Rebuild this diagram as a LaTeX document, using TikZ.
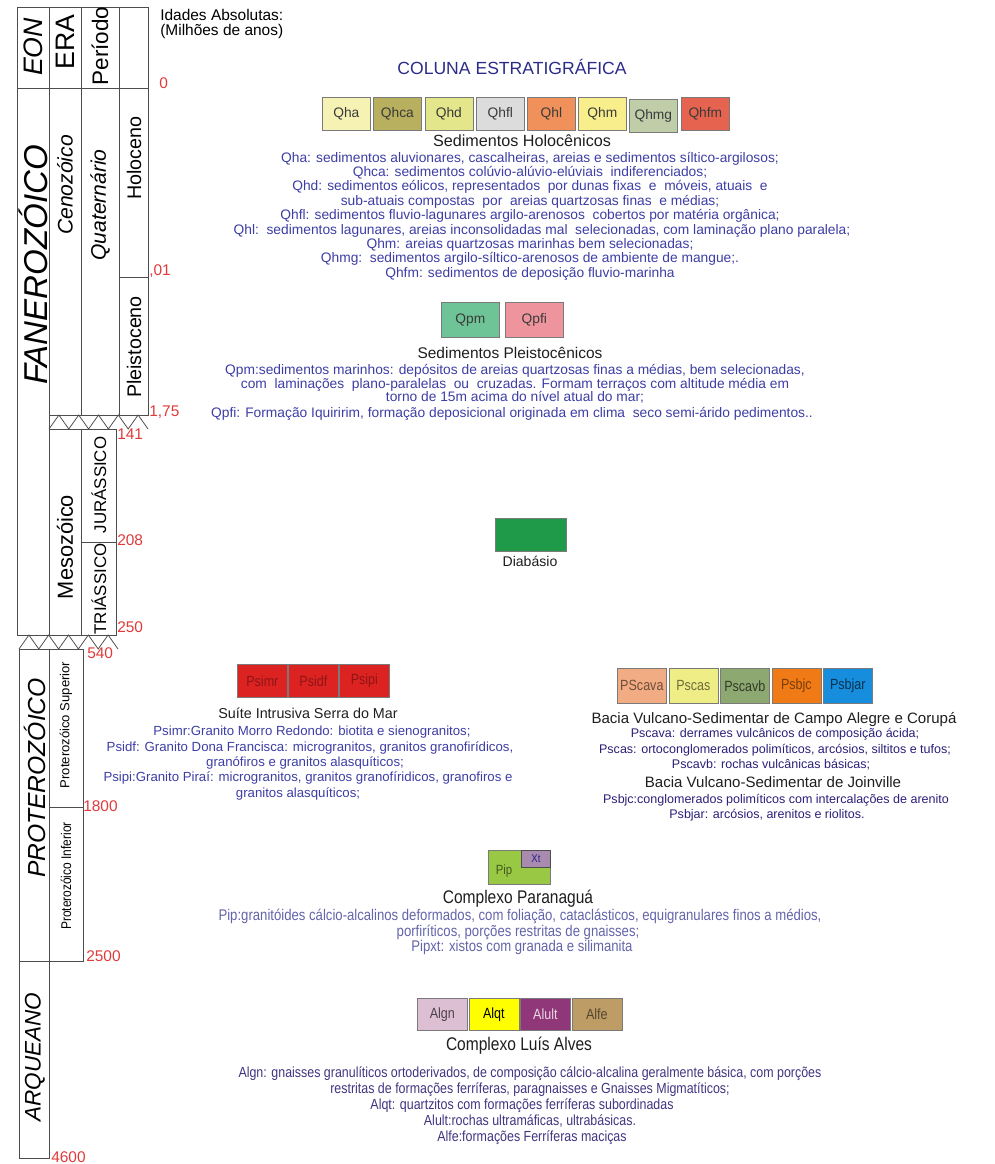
\documentclass[tikz,border=0pt]{standalone}
\usepackage{fontspec}
\setmainfont{Liberation Sans}
\newfontfamily\narrowfont[FakeStretch=0.85]{Liberation Sans}
\definecolor{cLine}{HTML}{4D4D4D}
\definecolor{cBox}{HTML}{7A7A7A}
\definecolor{cRed}{HTML}{E03A3A}
\definecolor{cTitle}{HTML}{2B2B8A}
\definecolor{cHead}{HTML}{1E1E1E}
\definecolor{cHolo}{HTML}{3D3DA5}
\definecolor{cCampo}{HTML}{2A1F78}
\definecolor{cPara}{HTML}{6464AA}
\definecolor{cLuis}{HTML}{3F3580}
\definecolor{cSwTxt}{HTML}{3A3A3A}
\definecolor{cQha}{HTML}{F6F2B4}
\definecolor{cQhca}{HTML}{B8B05E}
\definecolor{cQhd}{HTML}{E4E68C}
\definecolor{cQhfl}{HTML}{DCDCDC}
\definecolor{cQhl}{HTML}{F0905A}
\definecolor{cQhm}{HTML}{F8EF8C}
\definecolor{cQhmg}{HTML}{C0CDA9}
\definecolor{cQhfm}{HTML}{E6644F}
\definecolor{cQpm}{HTML}{6FC497}
\definecolor{cQpfi}{HTML}{EE949C}
\definecolor{cDiab}{HTML}{1F9A48}
\definecolor{cPsi}{HTML}{DD2222}
\definecolor{cPsiTxt}{HTML}{8E1616}
\definecolor{cPScava}{HTML}{F2AC84}
\definecolor{cPscas}{HTML}{EFEE86}
\definecolor{cPscavb}{HTML}{8DA971}
\definecolor{cPsbjc}{HTML}{F07A16}
\definecolor{cPsbjar}{HTML}{168DDD}
\definecolor{cPip}{HTML}{98C844}
\definecolor{cXt}{HTML}{A98BB0}
\definecolor{cAlgn}{HTML}{DDBFD3}
\definecolor{cAlqt}{HTML}{FFFF00}
\definecolor{cAlult}{HTML}{8F3778}
\definecolor{cAlfe}{HTML}{BE9C66}
\tikzset{
  cell/.style={draw=cLine, line width=0.55pt},
  agelbl/.style={anchor=west, inner sep=0pt, text=cRed, font=\fontsize{11}{13}\selectfont},
  collbl/.style={rotate=90, inner sep=0pt, text=black},
  swatch/.style={draw=cBox, line width=0.5pt, anchor=north west, inner sep=0pt, text=cSwTxt, font=\fontsize{9.8}{11}\selectfont},
  swnarrow/.style={swatch, font=\narrowfont\fontsize{10.5}{11}\selectfont},
  head/.style={anchor=base, inner sep=0pt, text=cHead, font=\fontsize{11}{13}\selectfont},
  dsc/.style={anchor=base, inner sep=0pt, text=cHolo, font=\fontsize{9.8}{11}\selectfont},
  dscnarrow/.style={anchor=base, inner sep=0pt, font=\narrowfont\fontsize{11}{12}\selectfont}
}
\begin{document}
\begin{tikzpicture}[x=0.025cm, y=-0.025cm]
\useasboundingbox (0,0) rectangle (994,1164);
\draw[cell] (17,7) rectangle (49,88);
\draw[cell] (49,7) rectangle (81,88);
\draw[cell] (81,7) rectangle (119,88);
\draw[cell] (119,7) rectangle (148,88);
\draw[cell] (17,88) rectangle (49,635);
\draw[cell] (49,88) rectangle (81,415);
\draw[cell] (81,88) rectangle (119,415);
\draw[cell] (119,88) rectangle (148,277);
\draw[cell] (119,277) rectangle (148,415);
\draw[cell] (49,429) -- (58.9,415) -- (68.8,429) -- (78.7,415) -- (88.6,429) -- (98.5,415) -- (108.4,429) -- (118.3,415) -- (128.2,429) -- (138.1,415) -- (148,429);
\draw[cell] (49,429) rectangle (81,635);
\draw[cell] (81,429) rectangle (116,542);
\draw[cell] (81,542) rectangle (116,635);
\draw[cell] (19,649) -- (28.9,635) -- (38.8,649) -- (48.7,635) -- (58.6,649) -- (68.5,635) -- (78.4,649) -- (88.3,635) -- (98.2,649) -- (108.1,635) -- (118,649);
\draw[cell] (19,649) rectangle (49,961);
\draw[cell] (49,649) rectangle (83,807);
\draw[cell] (49,807) rectangle (83,961);
\draw[cell] (19,961) rectangle (49,1158);

\node[collbl, font=\fontsize{19}{22}\selectfont\itshape] (eon) at (33,47) {EON};
\node[collbl, font=\fontsize{19}{22}\selectfont] (era) at (65,42) {ERA};
\node[collbl, font=\fontsize{16}{19}\selectfont] (periodo) at (100,46) {Período};
\node[collbl, font=\fontsize{23.5}{26}\selectfont\itshape] (fanero) at (33,265) {FANEROZÓICO};
\node[collbl, font=\fontsize{15}{18}\selectfont\itshape] (ceno) at (65,185) {Cenozóico};
\node[collbl, font=\fontsize{15}{18}\selectfont\itshape] (quat) at (100,205) {Quaternário};
\node[collbl, font=\fontsize{14}{16}\selectfont] (holoc) at (134,158) {Holoceno};
\node[collbl, font=\fontsize{14}{16}\selectfont] (pleist) at (134,347) {Pleistoceno};
\node[collbl, font=\fontsize{15.5}{18}\selectfont] (meso) at (65,547) {Mesozóico};
\node[collbl, font=\fontsize{12}{14}\selectfont] (jura) at (99,485) {JURÁSSICO};
\node[collbl, font=\fontsize{12}{14}\selectfont] (trias) at (99,589) {TRIÁSSICO};
\node[collbl, font=\fontsize{17.5}{20}\selectfont\itshape] (protero) at (35,778) {PROTEROZÓICO};
\node[collbl, font=\fontsize{9.3}{11}\selectfont] (protsup) at (66,725) {Proterozóico Superior};
\node[collbl, font=\narrowfont\fontsize{10}{11}\selectfont] (protinf) at (66,876) {Proterozóico Inferior};
\node[collbl, font=\fontsize{16}{19}\selectfont\itshape] (arque) at (35,1057) {ARQUEANO};

\node[anchor=west, inner sep=0pt, font=\fontsize{11}{13}\selectfont] (idades) at (160,15) {Idades Absolutas:};
\node[anchor=west, inner sep=0pt, font=\fontsize{11}{13}\selectfont] (milhoes) at (160,31) {(Milhões de anos)};
\node[agelbl] (a0) at (159,83) {0};
\node[agelbl] (a01) at (149,271) {,01};
\node[agelbl] (a175) at (149,412) {1,75};
\node[agelbl] (a141) at (117,434) {141};
\node[agelbl] (a208) at (117,540) {208};
\node[agelbl] (a250) at (117,627) {250};
\node[agelbl] (a540) at (87,653) {540};
\node[agelbl] (a1800) at (83,806) {1800};
\node[agelbl] (a2500) at (86,956) {2500};
\node[agelbl] (a4600) at (51,1157) {4600};

\node[anchor=base, inner sep=0pt, text=cTitle, font=\fontsize{12.5}{14}\selectfont] (title) at (512,74) {COLUNA ESTRATIGRÁFICA};

\node[swatch, fill=cQha, minimum width=1.2cm, minimum height=0.825cm] (qha) at (322,97) {Qha};
\node[swatch, fill=cQhca, minimum width=1.2cm, minimum height=0.825cm] (qhca) at (373,97) {Qhca};
\node[swatch, fill=cQhd, minimum width=1.2cm, minimum height=0.825cm] (qhd) at (424.5,97) {Qhd};
\node[swatch, fill=cQhfl, minimum width=1.2cm, minimum height=0.825cm] (qhfl) at (476,97) {Qhfl};
\node[swatch, fill=cQhl, minimum width=1.2cm, minimum height=0.825cm] (qhl) at (527,97) {Qhl};
\node[swatch, fill=cQhm, minimum width=1.2cm, minimum height=0.825cm] (qhm) at (578,97) {Qhm};
\node[swatch, fill=cQhmg, minimum width=1.2cm, minimum height=0.825cm] (qhmg) at (629,99) {Qhmg};
\node[swatch, fill=cQhfm, minimum width=1.2cm, minimum height=0.825cm] (qhfm) at (681,97) {Qhfm};
\node[head, font=\fontsize{11.5}{13}\selectfont] (holohd) at (522,146) {Sedimentos Holocênicos};
\node[dsc] (holo1) at (530,162) {Qha: sedimentos aluvionares, cascalheiras, areias e sedimentos síltico-argilosos;};
\node[dsc] (holo2) at (530,176.4) {Qhca: sedimentos colúvio-alúvio-elúviais\ \ indiferenciados;};
\node[dsc] (holo3) at (530,190.8) {Qhd: sedimentos eólicos, representados\ \ por dunas fixas\ \ e\ \ móveis, atuais\ \ e};
\node[dsc] (holo4) at (530,205.2) {sub-atuais compostas\ \ por\ \ areias quartzosas finas\ \ e médias;};
\node[dsc] (holo5) at (530,219.6) {Qhfl: sedimentos fluvio-lagunares argilo-arenosos\ \ cobertos por matéria orgânica;};
\node[dsc] (holo6) at (542,234) {Qhl:\ \ sedimentos lagunares, areias inconsolidadas mal\ \ selecionadas, com laminação plano paralela;};
\node[dsc] (holo7) at (530,248.4) {Qhm: areias quartzosas marinhas bem selecionadas;};
\node[dsc] (holo8) at (530,262.8) {Qhmg:\ \ sedimentos argilo-síltico-arenosos de ambiente de mangue;.};
\node[dsc] (holo9) at (530,277.2) {Qhfm: sedimentos de deposição fluvio-marinha};

\node[swatch, fill=cQpm, minimum width=1.45cm, minimum height=0.875cm] (qpm) at (441,302) {Qpm};
\node[swatch, fill=cQpfi, minimum width=1.45cm, minimum height=0.875cm] (qpfi) at (505,302) {Qpfi};
\node[head] (pleihd) at (510,358) {Sedimentos Pleistocênicos};
\node[dsc] (plei1) at (515,374.5) {Qpm:sedimentos marinhos: depósitos de areias quartzosas finas a médias, bem selecionadas,};
\node[dsc] (plei2) at (515,388) {com\ \ laminações\ \ plano-paralelas\ \ ou\ \ cruzadas. Formam terraços com altitude média em};
\node[dsc] (plei3) at (515,401.5) {torno de 15m acima do nível atual do mar;};
\node[dsc] (plei4) at (512,417.5) {Qpfi: Formação Iquiririm, formação deposicional originada em clima\ \ seco semi-árido pedimentos..};

\node[draw=cBox, line width=0.5pt, fill=cDiab, anchor=north west, inner sep=0pt, minimum width=1.775cm, minimum height=0.825cm] (diab) at (495,518) {};
\node[head, font=\fontsize{10}{12}\selectfont] (diabhd) at (530,566) {Diabásio};

\node[swnarrow, fill=cPsi, text=cPsiTxt, minimum width=1.25cm, minimum height=0.825cm] (psimr) at (237,664) {Psimr};
\node[swnarrow, fill=cPsi, text=cPsiTxt, minimum width=1.25cm, minimum height=0.825cm] (psidf) at (288,664) {Psidf};
\node[swnarrow, fill=cPsi, text=cPsiTxt, minimum width=1.25cm, minimum height=0.825cm] (psipi) at (339,664) {Psipi};
\node[head, font=\fontsize{10.2}{12}\selectfont] (suitehd) at (308,718) {Suíte Intrusiva Serra do Mar};
\node[dsc, font=\fontsize{9.4}{11}\selectfont] (suite1) at (312,735.5) {Psimr:Granito Morro Redondo: biotita e sienogranitos;};
\node[dsc, font=\fontsize{9.4}{11}\selectfont] (suite2) at (310,751) {Psidf: Granito Dona Francisca: microgranitos, granitos granofirídicos,};
\node[dsc, font=\fontsize{9.4}{11}\selectfont] (suite3) at (305,766.5) {granófiros e granitos alasquíticos;};
\node[dsc, font=\fontsize{9.4}{11}\selectfont] (suite4) at (308,781.5) {Psipi:Granito Piraí: microgranitos, granitos granofíridicos, granofiros e};
\node[dsc, font=\fontsize{9.4}{11}\selectfont] (suite5) at (298,797.5) {granitos alasquíticos;};

\node[swnarrow, fill=cPScava, text=cPScava!45!black, minimum width=1.225cm, minimum height=0.875cm] (pscava) at (617,668) {PScava};
\node[swnarrow, fill=cPscas, text=cPscas!45!black, minimum width=1.225cm, minimum height=0.875cm] (pscas) at (668.5,668) {Pscas};
\node[swnarrow, fill=cPscavb, text=cPscavb!35!black, minimum width=1.225cm, minimum height=0.875cm] (pscavb) at (720,668) {Pscavb};
\node[swnarrow, fill=cPsbjc, text=cPsbjc!50!black, minimum width=1.225cm, minimum height=0.875cm] (psbjc) at (771.5,668) {Psbjc};
\node[swnarrow, fill=cPsbjar, text=cPsbjar!35!black, minimum width=1.225cm, minimum height=0.875cm] (psbjar) at (823,668) {Psbjar};
\node[head, font=\fontsize{10.7}{13}\selectfont] (campohd) at (774,723) {Bacia Vulcano-Sedimentar de Campo Alegre e Corupá};
\node[dsc, text=cCampo, font=\fontsize{8.9}{11}\selectfont] (campo1) at (775,737.5) {Pscava: derrames vulcânicos de composição ácida;};
\node[dsc, text=cCampo, font=\fontsize{8.9}{11}\selectfont] (campo2) at (775,753) {Pscas: ortoconglomerados polimíticos, arcósios, siltitos e tufos;};
\node[dsc, text=cCampo, font=\fontsize{8.9}{11}\selectfont] (campo3) at (771,768.5) {Pscavb: rochas vulcânicas básicas;};
\node[head, font=\fontsize{10.7}{13}\selectfont] (joinhd) at (773,787) {Bacia Vulcano-Sedimentar de Joinville};
\node[dsc, text=cCampo, font=\fontsize{8.9}{11}\selectfont] (join1) at (776,803) {Psbjc:conglomerados polimíticos com intercalações de arenito};
\node[dsc, text=cCampo, font=\fontsize{8.9}{11}\selectfont] (join2) at (767,818) {Psbjar: arcósios, arenitos e riolitos.};

\node[draw=cBox, line width=0.5pt, fill=cPip, anchor=north west, inner sep=0pt, minimum width=1.55cm, minimum height=0.85cm] (pip) at (488,850) {};
\node[draw=cLine, line width=0.5pt, fill=cXt, anchor=north east, inner sep=0pt, minimum width=0.72cm, minimum height=0.42cm, text=cXt!40!blue!60!black, font=\narrowfont\fontsize{8}{9}\selectfont] (xt) at (pip.north east) {Xt};
\node[inner sep=0pt, text=cPip!45!black, font=\narrowfont\fontsize{9.5}{11}\selectfont] (piplbl) at (504,871) {Pip};
\node[head, font=\narrowfont\fontsize{13}{15}\selectfont] (parahd) at (518,903) {Complexo Paranaguá};
\node[dscnarrow, text=cPara] (para1) at (520,920) {Pip:granitóides cálcio-alcalinos deformados, com foliação, cataclásticos, equigranulares finos a médios,};
\node[dscnarrow, text=cPara] (para2) at (518,936) {porfiríticos, porções restritas de gnaisses;};
\node[dscnarrow, text=cPara] (para3) at (522,951) {Pipxt: xistos com granada e silimanita};

\node[swnarrow, fill=cAlgn, text=cAlgn!35!black, minimum width=1.25cm, minimum height=0.8cm] (algn) at (417,998) {Algn};
\node[swnarrow, fill=cAlqt, text=black, minimum width=1.25cm, minimum height=0.8cm] (alqt) at (468.5,998) {Alqt};
\node[swnarrow, fill=cAlult, text=cAlult!20!white, minimum width=1.25cm, minimum height=0.8cm] (alult) at (520,998) {Alult};
\node[swnarrow, fill=cAlfe, text=cAlfe!45!black, minimum width=1.25cm, minimum height=0.8cm] (alfe) at (571.5,998) {Alfe};
\node[head, font=\narrowfont\fontsize{13}{15}\selectfont] (luishd) at (519,1050) {Complexo Luís Alves};
\node[dscnarrow, text=cLuis, font=\narrowfont\fontsize{10.4}{11}\selectfont] (luis1) at (530,1077) {Algn: gnaisses granulíticos ortoderivados, de composição cálcio-alcalina geralmente básica, com porções};
\node[dscnarrow, text=cLuis, font=\narrowfont\fontsize{10.4}{11}\selectfont] (luis2) at (530,1093) {restritas de formações ferríferas, paragnaisses e Gnaisses Migmatíticos;};
\node[dscnarrow, text=cLuis, font=\narrowfont\fontsize{10.4}{11}\selectfont] (luis3) at (522,1109) {Alqt: quartzitos com formações ferríferas subordinadas};
\node[dscnarrow, text=cLuis, font=\narrowfont\fontsize{10.4}{11}\selectfont] (luis4) at (530,1125) {Alult:rochas ultramáficas, ultrabásicas.};
\node[dscnarrow, text=cLuis, font=\narrowfont\fontsize{10.4}{11}\selectfont] (luis5) at (532,1141) {Alfe:formações Ferríferas maciças};
\end{tikzpicture}
\end{document}
